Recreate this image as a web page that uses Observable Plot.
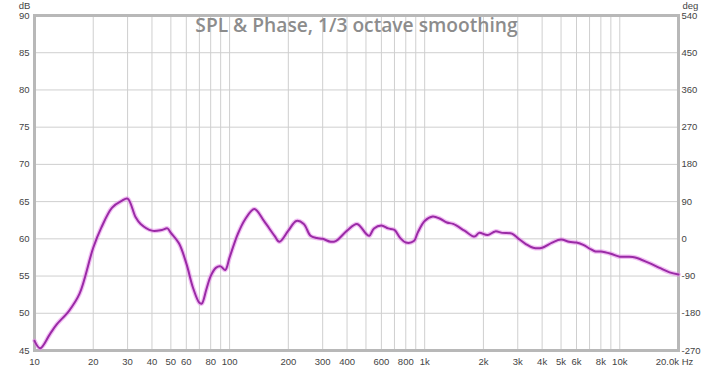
<!DOCTYPE html>
<html>
<head>
<meta charset="utf-8">
<script src="https://cdn.jsdelivr.net/npm/d3@7"></script>
<script src="https://cdn.jsdelivr.net/npm/@observablehq/plot@0.6"></script>
<style>
  html, body { margin: 0; padding: 0; background: #fff; }
  #chart { width: 720px; height: 369px; }
</style>
</head>
<body>
<div id="chart"></div>
<script>
const title = "SPL & Phase, 1/3 octave smoothing";
const freqs = [10, 10.7, 12, 13, 15, 17, 20, 22, 25, 28, 30, 33, 35, 40, 45, 48, 50, 55, 60, 65, 70, 72, 76, 80, 85, 90, 95, 100, 110, 120, 134, 150, 170, 180, 200, 220, 240, 260, 280, 300, 330, 350, 400, 450, 500, 520, 550, 600, 650, 700, 750, 800, 880, 920, 1000, 1100, 1200, 1300, 1400, 1600, 1800, 1900, 2100, 2300, 2500, 2800, 3000, 3300, 3600, 4000, 4500, 5000, 5500, 6000, 6500, 7000, 7500, 8000, 9000, 10000, 11000, 12000, 14000, 16000, 18000, 20000];
const spl = [46.3, 45.3, 47.2, 48.5, 50.3, 52.6, 58.8, 61.5, 64.2, 65.1, 65.4, 62.9, 62.0, 61.1, 61.2, 61.4, 60.8, 59.4, 56.7, 53.4, 51.4, 51.3, 53.2, 55.0, 56.1, 56.3, 55.8, 57.5, 60.6, 62.6, 64.0, 62.4, 60.4, 59.6, 61.1, 62.4, 62.0, 60.4, 60.1, 60.0, 59.6, 59.7, 61.1, 62.0, 60.7, 60.4, 61.4, 61.8, 61.4, 61.2, 60.1, 59.5, 59.7, 60.8, 62.4, 63.0, 62.7, 62.2, 62.0, 61.1, 60.3, 60.8, 60.5, 61.0, 60.8, 60.7, 60.1, 59.3, 58.8, 58.8, 59.5, 59.9, 59.6, 59.5, 59.2, 58.7, 58.3, 58.3, 58.0, 57.6, 57.6, 57.5, 56.8, 56.1, 55.5, 55.2];

const xTicks = [10, 20, 30, 40, 50, 60, 80, 100, 200, 300, 400, 600, 800, 1000, 2000, 3000, 4000, 5000, 6000, 8000, 10000];
const xTickLabels = ["10", "20", "30", "40", "50", "60", "80", "100", "200", "300", "400", "600", "800", "1k", "2k", "3k", "4k", "5k", "6k", "8k", "10k"];
const xLastTick = [20000];
const xLastLabel = ["20.0k Hz"];
const xGrid = [20, 30, 40, 50, 60, 70, 80, 90, 100, 200, 300, 400, 500, 600, 700, 800, 900, 1000, 2000, 3000, 4000, 5000, 6000, 7000, 8000, 9000, 10000];
const yTicks = [45, 50, 55, 60, 65, 70, 75, 80, 85, 90];
const degTicks = [-270, -180, -90, 0, 90, 180, 270, 360, 450, 540];

const data = freqs.map((f, i) => ({f, db: spl[i]}));
const xLabelRows = xTicks.map((t, i) => ({t, label: xTickLabels[i]}));
const yLabelRows = yTicks.map((t, i) => ({t, label: String(t), deg: String(degTicks[i])}));

const font = "Liberation Sans, Arial, sans-serif";
const fs = 9.5;
const tc = "#444";
const chart = Plot.plot({
  width: 720,
  height: 369,
  marginLeft: 34,
  marginRight: 42,
  marginTop: 15,
  marginBottom: 19,
  style: {fontFamily: font, fontSize: fs + "px", color: tc, background: "#fff"},
  x: {type: "log", domain: [10, 20000], axis: null},
  y: {domain: [45, 90], axis: null},
  marks: [
    Plot.gridX(xGrid, {stroke: "#cfcfcf", strokeOpacity: 1}),
    Plot.gridY(yTicks, {stroke: "#cfcfcf", strokeOpacity: 1}),
    Plot.text(xLabelRows, {x: "t", text: "label", frameAnchor: "bottom", lineAnchor: "middle", dy: 11, fontSize: fs, fill: tc}),
    Plot.text(xLastTick, {x: d => d, text: () => xLastLabel[0], frameAnchor: "bottom", lineAnchor: "middle", dy: 11, dx: -4, fontSize: fs, fill: tc}),
    Plot.text(yLabelRows, {y: "t", text: "label", frameAnchor: "left", textAnchor: "end", dx: -5, fontSize: fs, fill: tc}),
    Plot.text(yLabelRows, {y: "t", text: "deg", frameAnchor: "right", textAnchor: "start", dx: 3, fontSize: fs, fill: tc}),
    Plot.text(["dB"], {frameAnchor: "top-left", dx: -10, dy: -10, lineAnchor: "middle", textAnchor: "middle", fontSize: fs, fill: tc}),
    Plot.text(["deg"], {frameAnchor: "top-right", dx: 4, dy: -10, lineAnchor: "middle", textAnchor: "start", fontSize: fs, fill: tc}),
    Plot.frame({stroke: "#b8b8b8", strokeWidth: 3}),
    Plot.line(data, {x: "f", y: "db", stroke: "#e58be9", strokeWidth: 4.5, strokeOpacity: 0.55, curve: "catmull-rom"}),
    Plot.line(data, {x: "f", y: "db", stroke: "#9a2aa6", strokeWidth: 2, curve: "catmull-rom"}),
    Plot.text([title], {frameAnchor: "top", dy: 10, lineAnchor: "middle", fontSize: 19.2, fontWeight: 600, fill: "#8c8c8c", fontFamily: "Open Sans, sans-serif"})
  ]
});
document.getElementById("chart").appendChild(chart);
</script>
</body>
</html>
